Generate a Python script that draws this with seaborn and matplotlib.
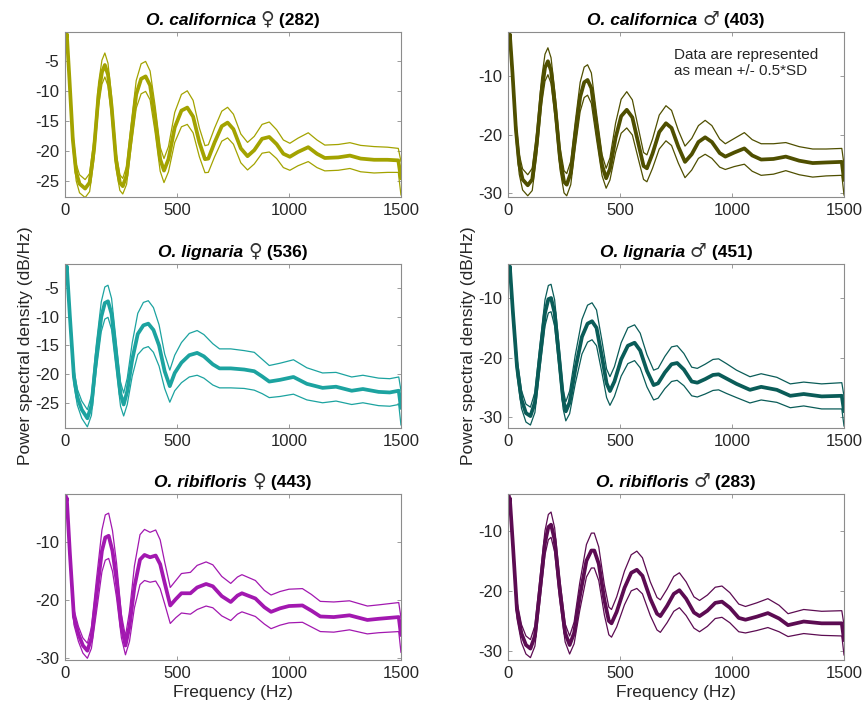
import matplotlib
matplotlib.use("Agg")
import matplotlib.pyplot as plt
import seaborn as sns
import numpy as np
import pandas as pd

# Mean PSD (dB/Hz) and 0.5*SD, one set per panel

cal_f_freq = [0, 8, 20, 35, 50, 65, 90, 110, 130, 150, 165, 178, 192, 208, 228, 245, 258, 275, 295,
              318, 340, 360, 380, 402, 425, 442, 462, 490, 520, 546, 572, 600, 625, 640, 668, 700,
              726, 752, 785, 815, 845, 880, 912, 945, 975, 1004, 1040, 1086, 1125, 1160, 1220,
              1272, 1320, 1380, 1440, 1488, 1500]
cal_f_mean = [-2.5, -0.4, -8, -18, -23.5, -25.4, -26.2, -25.2, -19.5, -10.5, -6.8, -5.6, -7.2, -12.5,
              -21.5, -25.2, -25.8, -24, -17.5, -10.5, -7.9, -7.5, -9, -14.5, -21.3, -23.2, -21.3,
              -16, -13.2, -12.7, -14.2, -18.5, -21.3, -21.2, -18.5, -15.8, -15.2, -16.3, -19.5,
              -20.8, -19.8, -17.9, -17.6, -18.8, -20.4, -20.9, -20.1, -19.3, -20.4, -21.1, -21,
              -20.7, -21.2, -21.4, -21.4, -21.5, -24.5]
cal_f_sd = [0.6, 0.8, 1.2, 1.3, 1.4, 1.5, 1.5, 1.5, 1.7, 1.9, 2.0, 2.0, 1.9, 1.7, 1.4, 1.3, 1.3, 1.5,
            1.9, 2.3, 2.5, 2.5, 2.4, 2.2, 2.0, 2.0, 2.1, 2.5, 2.7, 2.8, 2.7, 2.4, 2.25, 2.3, 2.4, 2.5,
            2.55, 2.5, 2.4, 2.3, 2.3, 2.4, 2.5, 2.4, 2.3, 2.25, 2.3, 2.4, 2.3, 2.15, 2.15, 2.15, 2.2,
            2.2, 2.1, 2.0, 2.8]

cal_m_freq = [0, 8, 20, 35, 50, 65, 88, 108, 128, 150, 165, 178, 192, 210, 232, 250, 262, 280, 300,
              322, 340, 355, 372, 395, 420, 438, 455, 480, 505, 530, 555, 585, 605, 620, 645, 675,
              705, 730, 760, 790, 820, 850, 880, 910, 945, 970, 1010, 1055, 1090, 1130, 1185, 1240,
              1300, 1360, 1420, 1490, 1500]
cal_m_mean = [-4.9, -2.8, -9.5, -19, -25, -27.6, -28.6, -27.6, -21.5, -12.5, -8.5, -7.4, -9, -15, -24,
              -28, -28.5, -26.5, -20, -13.5, -11, -10.6, -12, -18.5, -25.2, -27.4, -25.8, -20.5,
              -16.8, -15.7, -17, -22, -25.3, -25.7, -23.2, -19.5, -18, -18.8, -22, -24.6, -23.3,
              -21.2, -20.4, -21.2, -23.1, -23.7, -23, -22.3, -23.5, -24.2, -24.1, -23.7, -24.4,
              -24.8, -24.7, -24.6, -27.7]
cal_m_sd = [0.8, 0.9, 1.2, 1.5, 1.7, 1.8, 1.8, 1.9, 2.0, 2.2, 2.3, 2.3, 2.2, 2.0, 1.9, 1.9, 1.9, 2.0,
            2.2, 2.5, 2.6, 2.6, 2.6, 2.2, 1.8, 1.7, 1.9, 2.5, 2.9, 3.1, 3.0, 2.6, 2.3, 2.3, 2.5, 2.9,
            3.0, 3.0, 2.8, 2.7, 2.7, 2.8, 2.9, 2.8, 2.4, 2.2, 2.4, 2.7, 2.7, 2.7, 2.6, 2.4, 2.4, 2.4,
            2.3, 2.3, 2.6]

lig_f_freq = [0, 8, 22, 40, 55, 75, 100, 118, 140, 162, 178, 192, 208, 228, 248, 262, 278, 300, 325,
              350, 372, 395, 420, 445, 468, 490, 520, 555, 590, 620, 660, 690, 740, 800, 845, 880,
              912, 960, 1020, 1080, 1150, 1210, 1280, 1330, 1400, 1450, 1490, 1500]
lig_f_mean = [-3.3, -1.2, -10, -20.5, -24, -26.2, -27.7, -25.5, -17, -10, -7.6, -7.3, -9.5, -16.5,
              -23.5, -25.3, -23, -17.5, -13, -11.5, -11.2, -12.3, -15, -19.5, -22.1, -19.8, -18,
              -16.7, -16.3, -16.9, -18.3, -19, -19, -19.2, -19.5, -20.4, -21.3, -21, -20.5, -21.7,
              -22.4, -22.2, -22.9, -22.6, -23.1, -23.2, -22.9, -25.9]
lig_f_sd = [0.8, 1.0, 1.2, 1.3, 1.4, 1.5, 1.5, 1.7, 2.2, 2.6, 2.8, 2.8, 2.7, 2.4, 2.1, 2.0, 2.3, 2.9,
            3.6, 4.0, 4.0, 3.9, 3.6, 3.0, 2.8, 3.1, 3.5, 3.8, 3.9, 3.8, 3.6, 3.4, 3.4, 3.3, 3.3, 3.0,
            2.8, 2.9, 3.0, 2.8, 2.6, 2.5, 2.4, 2.4, 2.4, 2.4, 2.4, 3.0]

lig_m_freq = [0, 8, 22, 40, 60, 80, 100, 120, 142, 165, 180, 192, 208, 228, 246, 258, 275, 300, 330,
              355, 375, 395, 420, 440, 455, 475, 505, 535, 565, 590, 620, 650, 670, 700, 730, 755,
              785, 820, 845, 880, 915, 940, 975, 1020, 1080, 1130, 1200, 1260, 1320, 1400, 1490,
              1500]
lig_m_mean = [-6.6, -4.7, -12.5, -21.5, -27, -29.3, -29.8, -27.5, -20, -12.5, -10.2, -10, -12.5, -20,
              -27, -29, -27.5, -22, -16.5, -14.3, -13.9, -15, -20, -24.3, -25.6, -24, -20.3, -18,
              -17.5, -18.8, -22.2, -24.6, -24.3, -22.5, -21.1, -20.9, -22, -24, -24.2, -23.6, -22.9,
              -22.8, -23.5, -24.4, -25.4, -24.9, -25.4, -26.4, -26.1, -26.5, -26.4, -29]
lig_m_sd = [0.8, 1.0, 1.2, 1.4, 1.5, 1.5, 1.5, 1.7, 2.0, 2.2, 2.3, 2.3, 2.2, 1.9, 1.6, 1.6, 1.9, 2.4,
            2.9, 3.1, 3.1, 3.0, 2.7, 2.4, 2.4, 2.5, 2.8, 3.0, 3.0, 2.9, 2.7, 2.5, 2.5, 2.7, 2.9, 2.9,
            2.7, 2.4, 2.4, 2.5, 2.6, 2.6, 2.5, 2.3, 2.2, 2.2, 2.1, 2.0, 2.0, 2.1, 2.2, 2.5]

rib_f_freq = [0, 8, 22, 40, 60, 80, 100, 118, 140, 165, 180, 195, 212, 230, 252, 270, 288, 310, 335,
              355, 380, 405, 425, 445, 470, 495, 520, 560, 590, 630, 660, 700, 740, 770, 790, 850,
              890, 920, 960, 1000, 1060, 1100, 1140, 1200, 1270, 1350, 1400, 1490, 1500]
rib_f_mean = [-4.1, -2.4, -12, -22.9, -25.8, -27.8, -28.7, -26.5, -19.4, -11.5, -9.2, -8.9, -11.5,
              -16.5, -24.5, -27.8, -24.5, -17.7, -13, -12.2, -12.6, -12.3, -13.8, -17, -20.9, -19.8,
              -18.8, -18.8, -17.8, -17.2, -17.6, -19.3, -20.3, -19.2, -18.8, -19.7, -21.2, -22,
              -21.4, -21, -20.9, -21.8, -22.8, -22.9, -22.6, -23.4, -23.2, -22.9, -26]
rib_f_sd = [0.8, 1.0, 1.2, 1.3, 1.3, 1.3, 1.3, 1.8, 2.8, 3.6, 3.9, 3.9, 3.5, 3.0, 2.0, 1.6, 2.6, 3.6,
            4.3, 4.4, 4.3, 4.4, 4.2, 3.6, 3.1, 3.2, 3.4, 3.6, 3.8, 3.8, 3.7, 3.4, 3.2, 3.2, 3.2, 3.1,
            2.9, 2.9, 2.9, 2.9, 2.9, 2.8, 2.6, 2.6, 2.5, 2.4, 2.4, 2.5, 3.0]

rib_m_freq = [0, 8, 22, 40, 60, 80, 100, 120, 142, 165, 180, 192, 208, 230, 255, 275, 295, 320, 350,
              372, 385, 405, 430, 450, 462, 485, 520, 550, 575, 600, 635, 665, 680, 710, 740, 765,
              795, 830, 855, 890, 925, 955, 990, 1030, 1060, 1110, 1160, 1210, 1250, 1320, 1400,
              1490, 1500]
rib_m_mean = [-6.2, -4.6, -12.5, -23.2, -27.1, -29, -29.6, -27.5, -20, -12, -9.4, -9, -11.5, -19.5,
              -27, -29, -27, -21, -15, -13.3, -13.3, -15.5, -21.5, -25, -25.4, -23.5, -19.5, -17,
              -16.5, -17.5, -21.3, -23.8, -24.2, -22.5, -20.5, -19.9, -21.3, -23.6, -24.2, -23.3,
              -22, -21.8, -22.8, -24.5, -24.8, -24.3, -23.7, -24.6, -25.7, -25.1, -25.4, -25.4, -28.2]
rib_m_sd = [0.8, 1.0, 1.2, 1.4, 1.5, 1.5, 1.5, 1.7, 1.9, 2.0, 2.1, 2.1, 2.0, 1.8, 1.5, 1.5, 1.8, 2.3,
            2.7, 2.9, 2.9, 2.8, 2.5, 2.3, 2.3, 2.5, 2.8, 3.0, 3.1, 3.0, 2.8, 2.7, 2.7, 2.8, 2.9, 2.9,
            2.8, 2.6, 2.6, 2.6, 2.6, 2.6, 2.5, 2.3, 2.2, 2.3, 2.4, 2.2, 1.9, 2.0, 2.0, 2.1, 2.5]

species = ["O. californica", "O. californica", "O. lignaria", "O. lignaria", "O. ribifloris", "O. ribifloris"]
sexes = ["\u2640", "\u2642", "\u2640", "\u2642", "\u2640", "\u2642"]
n_bees = [282, 403, 536, 451, 443, 283]
colors = ["#a3a300", "#4f4f00", "#1ca3a0", "#0a5c58", "#a218b0", "#5c0c52"]
freqs = [cal_f_freq, cal_m_freq, lig_f_freq, lig_m_freq, rib_f_freq, rib_m_freq]
means = [cal_f_mean, cal_m_mean, lig_f_mean, lig_m_mean, rib_f_mean, rib_m_mean]
sds = [cal_f_sd, cal_m_sd, lig_f_sd, lig_m_sd, rib_f_sd, rib_m_sd]
ylims = [(-27.6, -0.1), (-30.6, -2.4), (-29.4, -0.8), (-31.8, -4.3), (-30.3, -1.7), (-31.5, -3.9)]
yticks = [[-25, -20, -15, -10, -5], [-30, -20, -10], [-25, -20, -15, -10, -5],
          [-30, -20, -10], [-30, -20, -10], [-30, -20, -10]]

sns.set_style("white")
plt.rcParams['font.family'] = ['Liberation Sans', 'DejaVu Sans']
plt.rcParams['font.size'] = 12
plt.rcParams['axes.unicode_minus'] = False

fig = plt.figure(figsize=(8.64, 7.05), dpi=100)
lefts = [0.0752, 0.588]
bottoms = [0.7206, 0.3929, 0.0638]
heights = [0.234, 0.2326, 0.2355]

axes = []
titles = []
for i in range(6):
    row, col = i // 2, i % 2
    ax = fig.add_axes([lefts[col], bottoms[row], 0.3889, heights[row]])
    axes.append(ax)

    df = pd.DataFrame({'freq': freqs[i], 'mean': means[i], 'sd': sds[i]})
    df['upper'] = df['mean'] + df['sd']
    df['lower'] = df['mean'] - df['sd']

    sns.lineplot(data=df, x='freq', y='upper', ax=ax, color=colors[i], lw=0.9, sort=False)
    sns.lineplot(data=df, x='freq', y='lower', ax=ax, color=colors[i], lw=0.9, sort=False)
    sns.lineplot(data=df, x='freq', y='mean', ax=ax, color=colors[i], lw=2.7, sort=False)

    ax.set_xlim(0, 1500)
    ax.set_ylim(*ylims[i])
    ax.set_xticks([0, 500, 1000, 1500])
    ax.set_yticks(yticks[i])
    ax.set_xlabel("")
    ax.set_ylabel("")
    ax.tick_params(direction='in', length=3, width=0.6, color='#8c8c8c', labelcolor='#262626',
                   labelsize=12, bottom=True, left=True, top=True, right=True, pad=4)
    for s in ax.spines.values():
        s.set_color('#8c8c8c')
        s.set_linewidth(0.8)
        s.set_visible(True)

    # title: bold italic species name, sex symbol, sample size
    parts = [
        ax.text(0.5, 1.025, species[i] + " ", transform=ax.transAxes, ha='left', va='bottom',
                fontsize=12.5, fontweight='bold', style='italic', color='black'),
        ax.text(0.5, 1.02, sexes[i], transform=ax.transAxes, ha='left', va='bottom',
                fontsize=13.5, family='DejaVu Sans', color='#333333'),
        ax.text(0.5, 1.025, " (" + str(n_bees[i]) + ")", transform=ax.transAxes,
                ha='left', va='bottom', fontsize=12.5, fontweight='bold', color='black'),
    ]
    titles.append((ax, parts))

    if row == 1:
        ax.set_ylabel("Power spectral density (dB/Hz)", fontsize=12.5, color='#262626', labelpad=2)
    if row == 2:
        ax.set_xlabel("Frequency (Hz)", fontsize=12.5, color='#262626', labelpad=3)

axes[1].text(0.494, 0.905, "Data are represented\nas mean +/- 0.5*SD", transform=axes[1].transAxes,
             ha='left', va='top', fontsize=11, color='#262626', linespacing=1.2)

# center the multi-part titles over each axes
fig.canvas.draw()
r = fig.canvas.get_renderer()
for ax, parts in titles:
    bb = ax.get_window_extent(r)
    widths = [p.get_window_extent(r).width for p in parts]
    x = 0.5 - sum(widths) / 2 / bb.width
    for p, w in zip(parts, widths):
        p.set_x(x)
        x += w / bb.width

fig.savefig("out.png", dpi=100)
